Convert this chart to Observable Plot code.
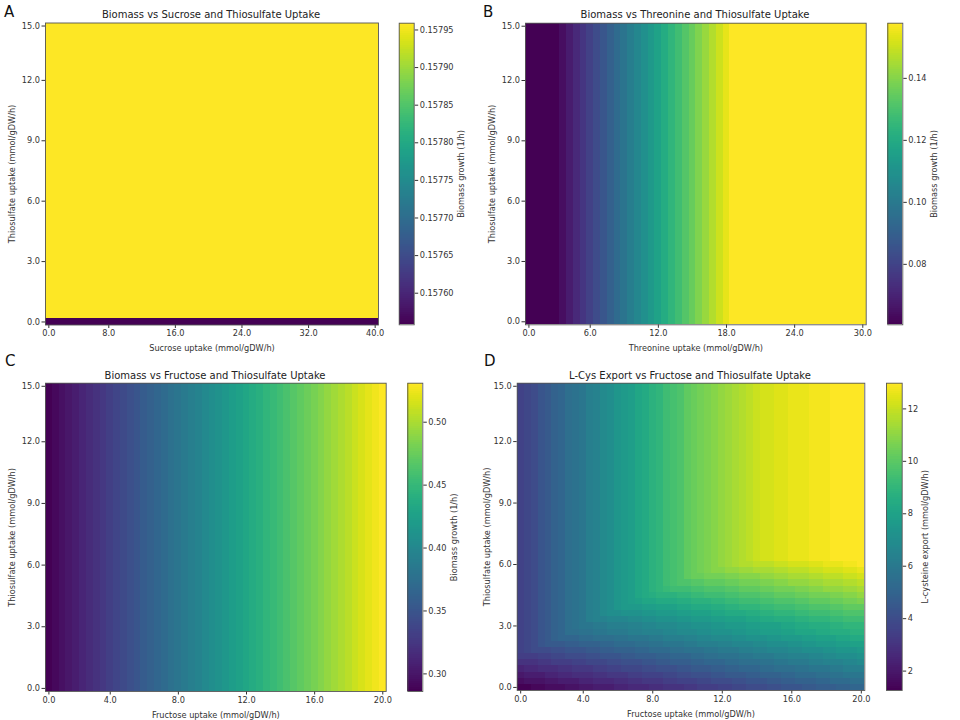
<!DOCTYPE html>
<html><head><meta charset="utf-8">
<script src="https://cdn.jsdelivr.net/npm/d3@7"></script>
<script src="https://cdn.jsdelivr.net/npm/@observablehq/plot@0.6"></script>
<style>
body{margin:0;background:#fff}
#fig{position:relative;width:960px;height:720px;overflow:hidden;background:#fff;font-family:"DejaVu Sans",sans-serif}
#fig svg{position:absolute}
</style>
</head><body><div id="fig"></div>
<script>
// ---------- data (grid of 50 x 50 uptake steps) ----------
const xTickIdx = [0, 9, 19, 29, 39, 49];
const thioTickIdx = [0, 10, 20, 30, 40, 49];
const thioTickLabels = ["0.0", "3.0", "6.0", "9.0", "12.0", "15.0"];
const sucroseTickLabels = ["0.0", "8.0", "16.0", "24.0", "32.0", "40.0"];
const threonineTickLabels = ["0.0", "6.0", "12.0", "18.0", "24.0", "30.0"];
const fructoseTickLabels = ["0.0", "4.0", "8.0", "12.0", "16.0", "20.0"];

// A: biomass by thiosulfate step (same for every sucrose step)
const biomassSucroseByThio = [0.157558, 0.157959, 0.157959, 0.157959, 0.157959, 0.157959, 0.157959, 0.157959, 0.157959, 0.157959,
  0.157959, 0.157959, 0.157959, 0.157959, 0.157959, 0.157959, 0.157959, 0.157959, 0.157959, 0.157959,
  0.157959, 0.157959, 0.157959, 0.157959, 0.157959, 0.157959, 0.157959, 0.157959, 0.157959, 0.157959,
  0.157959, 0.157959, 0.157959, 0.157959, 0.157959, 0.157959, 0.157959, 0.157959, 0.157959, 0.157959,
  0.157959, 0.157959, 0.157959, 0.157959, 0.157959, 0.157959, 0.157959, 0.157959, 0.157959, 0.157959];
const biomassARange = [0.157558, 0.157959];
const biomassATicks = [0.15760, 0.15765, 0.15770, 0.15775, 0.15780, 0.15785, 0.15790, 0.15795];

// B: biomass by threonine step (same for every thiosulfate step)
const biomassByThreonine = [0.0605, 0.0605, 0.0605, 0.0605, 0.0605, 0.0642, 0.0680, 0.0717, 0.0755, 0.0792,
  0.0829, 0.0867, 0.0904, 0.0942, 0.0979, 0.1016, 0.1054, 0.1091, 0.1129, 0.1166,
  0.1203, 0.1241, 0.1278, 0.1316, 0.1353, 0.1390, 0.1428, 0.1465, 0.1503, 0.1540,
  0.1578, 0.1578, 0.1578, 0.1578, 0.1578, 0.1578, 0.1578, 0.1578, 0.1578, 0.1578,
  0.1578, 0.1578, 0.1578, 0.1578, 0.1578, 0.1578, 0.1578, 0.1578, 0.1578, 0.1578];
const biomassBRange = [0.0605, 0.1578];
const biomassBTicks = [0.08, 0.10, 0.12, 0.14];

// C: biomass by fructose step (same for every thiosulfate step)
const biomassByFructose = [0.286, 0.291, 0.296, 0.301, 0.306, 0.311, 0.316, 0.321, 0.326, 0.331,
  0.336, 0.341, 0.346, 0.351, 0.356, 0.361, 0.366, 0.371, 0.376, 0.381,
  0.386, 0.391, 0.396, 0.401, 0.406, 0.411, 0.416, 0.421, 0.426, 0.431,
  0.436, 0.441, 0.446, 0.451, 0.456, 0.461, 0.466, 0.471, 0.476, 0.481,
  0.486, 0.491, 0.496, 0.501, 0.506, 0.511, 0.516, 0.521, 0.526, 0.531];
const biomassCRange = [0.286, 0.531];
const biomassCTicks = [0.30, 0.35, 0.40, 0.45, 0.50];

// D: L-cysteine export, one string per thiosulfate step (bottom row first),
// one character per fructose step; character k of levelAlphabet = level k of 61
const levelAlphabet = "0123456789ABCDEFGHIJKLMNOPQRSTUVWXYZabcdefghijklmnopqrstuvwxyz";
const exportRange = [1.26, 12.98];
const exportTicks = [2, 4, 6, 8, 10, 12];
const exportTopRow = "CDEGHJKMNOQRTUWXYabdeghiklmnopqrstuvvwwxxxyyyzzzzz";
const exportLevelRows = [
  "0011222334" + "4555667778" + "8999AABBBC" + "CDDEEEFFGG" + "GHHIIIJJKK",
  "2333445556" + "67778899AA" + "ABBCCCDDEE" + "EFFGGGHHII" + "JJJKKLLLMM",
  "4555667788" + "899AAABBCC" + "CDDEEFFFGG" + "HHHIIJJJKK" + "LLLMMNNOOO",
  "67788899AA" + "ABBCCDDDEE" + "FFFGGHHHII" + "JJKKKLLMMM" + "NNOOOPPQQQ",
  "999AABBBCC" + "DDDEEFFFGG" + "HHIIIJJKKK" + "LLMMMNNOOP" + "PPQQRRRSST",
  "BBBCCDDEEE" + "FFGGGHHIII" + "JJKKKLLMMN" + "NNOOPPPQQR" + "RRSSTTUUUV",
  "CDEEEFFGGG" + "HHIIJJJKKL" + "LLMMNNNOOP" + "PPQQRRSSST" + "TUUUVVWWWX",
  "CDEGHHHIIJ" + "JJKKLLLMMN" + "NOOOPPQQQR" + "RSSSTTUUUV" + "VWWXXXYYZZ",
  "CDEGHJKKKL" + "LMMMNNOOOP" + "PQQQRRSSTT" + "TUUVVVWWXX" + "XYYZZZaabb",
  "CDEGHJKMMN" + "NOOPPPQQRR" + "RSSTTTUUVV" + "VWWXXYYYZZ" + "aaabbcccdd",
  "CDEGHJKMNO" + "OPPQQQRRSS" + "TTTUUVVVWW" + "XXXYYZZZaa" + "bbcccddeee",
  "CDEGHJKMNO" + "QRRSSSTTUU" + "VVVWWXXXYY" + "ZZZaabbccc" + "ddeeeffggg",
  "CDEGHJKMNO" + "QRTUUVVVWW" + "XXXYYZZZaa" + "bbbccddeee" + "ffggghhiii",
  "CDEGHJKMNO" + "QRTUWXXXYY" + "ZZZaabbbcc" + "ddeeeffggg" + "hhiiijjkkk",
  "CDEGHJKMNO" + "QRTUWXYZaa" + "bbbccdddee" + "ffggghhiii" + "jjkkkllmmn",
  "CDEGHJKMNO" + "QRTUWXYabc" + "dddeeffggg" + "hhiiijjkkk" + "llmmmnnoop",
  "CDEGHJKMNO" + "QRTUWXYabd" + "efggghhiii" + "jjkkkllmmm" + "nnoopppqqr",
  "CDEGHJKMNO" + "QRTUWXYabd" + "eghiijjkkk" + "llmmmnnoop" + "ppqqrrrsst",
  "CDEGHJKMNO" + "QRTUWXYabd" + "eghikllmmm" + "nnoooppqqr" + "rrsstttuuv",
  "CDEGHJKMNO" + "QRTUWXYabd" + "eghiklmnoo" + "ppqqrrrsst" + "ttuuvvvwwx",
  "CDEGHJKMNO" + "QRTUWXYabd" + "eghiklmnop" + "qrsstttuuv" + "vvwwxxxyyz",
  exportTopRow, exportTopRow, exportTopRow, exportTopRow, exportTopRow, exportTopRow, exportTopRow,
  exportTopRow, exportTopRow, exportTopRow, exportTopRow, exportTopRow, exportTopRow, exportTopRow,
  exportTopRow, exportTopRow, exportTopRow, exportTopRow, exportTopRow, exportTopRow, exportTopRow,
  exportTopRow, exportTopRow, exportTopRow, exportTopRow, exportTopRow, exportTopRow, exportTopRow,
  exportTopRow
];

const panelTitles = ["Biomass vs Sucrose and Thiosulfate Uptake", "Biomass vs Threonine and Thiosulfate Uptake",
  "Biomass vs Fructose and Thiosulfate Uptake", "L-Cys Export vs Fructose and Thiosulfate Uptake"];
const panelLetters = ["A", "B", "C", "D"];
const thioTitle = "Thiosulfate uptake (mmol/gDW/h)";

// ---------- cell tables ----------
const idx = d3.range(50);
const cellsA = idx.flatMap(j => idx.map(i => ({i, j, v: biomassSucroseByThio[j]})));
const cellsB = idx.flatMap(j => idx.map(i => ({i, j, v: biomassByThreonine[i]})));
const cellsC = idx.flatMap(j => idx.map(i => ({i, j, v: biomassByFructose[i]})));
const cellsD = exportLevelRows.flatMap((row, j) => [...row].map((ch, i) => ({i, j,
  v: exportRange[0] + levelAlphabet.indexOf(ch) / 61 * (exportRange[1] - exportRange[0])})));

const fig = document.getElementById("fig");
const baseStyle = {fontFamily: "DejaVu Sans, sans-serif", fontSize: "8.2px", color: "#333", background: "transparent", overflow: "visible"};

function place(svg, left, top) { svg.style.left = left + "px"; svg.style.top = top + "px"; fig.appendChild(svg); }

function heat(o) {
  const svg = Plot.plot({
    width: o.w, height: 360,
    marginTop: o.mt, marginBottom: o.mb, marginLeft: o.ml, marginRight: o.mr,
    style: baseStyle,
    x: {domain: [-0.5, 49.5], ticks: xTickIdx, tickFormat: d => o.xLabels[xTickIdx.indexOf(d)], tickSize: 3.5, tickPadding: 2,
        label: o.xTitle, labelAnchor: "center", labelOffset: o.xlo, labelArrow: "none"},
    y: {domain: [-0.5, 49.5], ticks: thioTickIdx, tickFormat: d => thioTickLabels[thioTickIdx.indexOf(d)], tickSize: 3.5, tickPadding: 2,
        label: thioTitle, labelAnchor: "center", labelOffset: o.ylo, labelArrow: "none"},
    color: {type: "linear", scheme: "viridis", domain: o.domain},
    marks: [
      Plot.rect(o.cells, {x1: d => d.i - 0.5, x2: d => d.i + 0.5, y1: d => d.j - 0.5, y2: d => d.j + 0.5, fill: "v", shapeRendering: "crispEdges"}),
      Plot.frame({stroke: "#555", strokeWidth: 0.9})
    ]
  });
  place(svg, o.left, o.top);
}

function colorbar(o) {
  const [lo, hi] = o.domain, n = 150;
  const steps = d3.range(n).map(k => ({a: lo + (hi - lo) * k / n, b: lo + (hi - lo) * (k + 1) / n, m: lo + (hi - lo) * (k + 0.5) / n}));
  const svg = Plot.plot({
    width: o.w, height: 360,
    marginTop: o.mt, marginBottom: o.mb, marginLeft: o.ml, marginRight: o.mr,
    style: baseStyle,
    x: {domain: [0, 1], axis: null},
    y: {domain: o.domain, axis: "right", ticks: o.ticks, tickFormat: d3.format(o.fmt), tickSize: 3.5, tickPadding: 2,
        label: o.label, labelAnchor: "center", labelOffset: o.lo, labelArrow: "none"},
    color: {type: "linear", scheme: "viridis", domain: o.domain},
    marks: [
      Plot.rect(steps, {x1: d => 0, x2: d => 1, y1: "a", y2: "b", fill: "m", shapeRendering: "crispEdges"}),
      Plot.frame({stroke: "#555", strokeWidth: 0.9})
    ]
  });
  place(svg, o.left, o.top);
}

heat({cells: cellsA, domain: biomassARange, xLabels: sucroseTickLabels, xTitle: "Sucrose uptake (mmol/gDW/h)",
  left: 0, top: 0, w: 392, mt: 22.5, mb: 35.5, ml: 45, mr: 14, xlo: 26, ylo: 36});
colorbar({domain: biomassARange, ticks: biomassATicks, fmt: ".5f", label: "Biomass growth (1/h)",
  left: 392, top: 0, w: 88, mt: 22.7, mb: 35.7, ml: 6.7, mr: 66.3, lo: 50});

heat({cells: cellsB, domain: biomassBRange, xLabels: threonineTickLabels, xTitle: "Threonine uptake (mmol/gDW/h)",
  left: 480, top: 0, w: 400, mt: 22.7, mb: 35.7, ml: 45, mr: 14.3, xlo: 26, ylo: 36});
colorbar({domain: biomassBRange, ticks: biomassBTicks, fmt: ".2f", label: "Biomass growth (1/h)",
  left: 880, top: 0, w: 80, mt: 22.7, mb: 35.7, ml: 7.3, mr: 57.7, lo: 34});

heat({cells: cellsC, domain: biomassCRange, xLabels: fructoseTickLabels, xTitle: "Fructose uptake (mmol/gDW/h)",
  left: 0, top: 360, w: 400, mt: 22.7, mb: 29, ml: 45, mr: 14.3, xlo: 26, ylo: 36});
colorbar({domain: biomassCRange, ticks: biomassCTicks, fmt: ".2f", label: "Biomass growth (1/h)",
  left: 400, top: 360, w: 80, mt: 22.7, mb: 29, ml: 7.3, mr: 57.7, lo: 34});

heat({cells: cellsD, domain: exportRange, xLabels: fructoseTickLabels, xTitle: "Fructose uptake (mmol/gDW/h)",
  left: 480, top: 360, w: 400, mt: 22.7, mb: 30, ml: 36.7, mr: 15.7, xlo: 26, ylo: 33});
colorbar({domain: exportRange, ticks: exportTicks, fmt: "d", label: "L-cysteine export (mmol/gDW/h)",
  left: 880, top: 360, w: 80, mt: 22.7, mb: 30, ml: 6, mr: 58.3, lo: 26});

// ---------- titles and panel letters ----------
const over = d3.create("svg").attr("width", 960).attr("height", 720)
  .style("left", "0px").style("top", "0px").style("pointer-events", "none")
  .attr("font-family", "DejaVu Sans, sans-serif");
const titlePos = [[211, 17.5], [695, 17.5], [215, 378.5], [690, 378.5]];
const letterPos = [[4, 17], [483, 17], [5, 366], [484, 366]];
titlePos.forEach(([x, y], k) => over.append("text").attr("x", x).attr("y", y).attr("text-anchor", "middle")
  .attr("font-size", 10).attr("fill", "#222").text(panelTitles[k]));
letterPos.forEach(([x, y], k) => over.append("text").attr("x", x).attr("y", y)
  .attr("font-size", 15).attr("fill", "#111").text(panelLetters[k]));
fig.appendChild(over.node());
</script>
</body></html>
